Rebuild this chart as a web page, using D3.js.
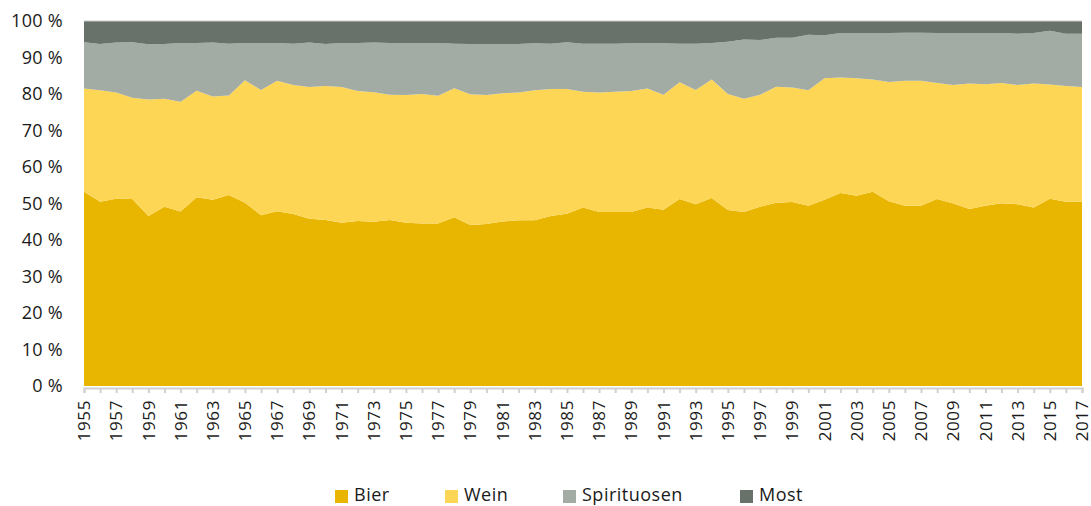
<!DOCTYPE html>
<html>
<head>
<meta charset="utf-8">
<script src="https://cdn.jsdelivr.net/npm/d3@7"></script>
<style>
  body { margin: 0; background: #fff; }
  svg text { font-family: "Open Sans", sans-serif; fill: #1a1a1a; }
  .axis text { font-size: 18px; letter-spacing: 0.3px; }
  .x-axis text { font-size: 17px; letter-spacing: 0.6px; }
  .legend text { font-size: 18px; letter-spacing: 0.5px; }
</style>
</head>
<body>
<svg id="chart" width="1091" height="506"></svg>
<script>
// Anteile am Alkoholkonsum (in %), 1955-2017
const years = d3.range(1955, 2018);
const seriesNames = ["Bier", "Wein", "Spirituosen", "Most"];
const seriesColors = ["#e8b500", "#fed655", "#a3aba5", "#68726a"];

const bier = [53.2, 50.5, 51.3, 51.2, 46.6, 49.1, 47.8, 51.7, 51.0, 52.3,
  50.2, 46.8, 47.9, 47.1, 45.8, 45.5, 44.7, 45.2, 45.0, 45.5,
  44.7, 44.5, 44.5, 46.2, 44.1, 44.4, 45.1, 45.4, 45.4, 46.6,
  47.2, 48.9, 47.7, 47.7, 47.7, 48.9, 48.3, 51.2, 49.8, 51.5,
  48.2, 47.7, 49.1, 50.2, 50.4, 49.4, 51.0, 52.9, 52.1, 53.2,
  50.6, 49.4, 49.4, 51.2, 50.0, 48.5, 49.4, 50.1, 49.8, 48.9,
  51.3, 50.5, 50.5];
const wein = [28.3, 30.5, 29.1, 27.8, 31.9, 29.6, 30.1, 29.2, 28.3, 27.3,
  33.6, 34.3, 35.7, 35.4, 36.1, 36.7, 37.2, 35.6, 35.5, 34.3,
  35.0, 35.5, 35.0, 35.4, 35.8, 35.3, 35.1, 35.0, 35.6, 34.8,
  34.2, 31.7, 32.7, 32.9, 33.1, 32.6, 31.5, 32.0, 31.3, 32.5,
  31.8, 31.0, 30.7, 31.8, 31.4, 31.6, 33.3, 31.6, 32.2, 30.8,
  32.7, 34.2, 34.2, 31.8, 32.5, 34.4, 33.3, 32.9, 32.7, 34.0,
  31.3, 31.7, 31.4];
const spirituosen = [12.7, 12.7, 13.7, 15.2, 15.1, 15.0, 16.1, 13.1, 14.8, 14.2,
  10.2, 12.9, 10.4, 11.3, 12.2, 11.5, 12.1, 13.2, 13.6, 14.2,
  14.3, 14.0, 14.5, 12.2, 13.8, 14.0, 13.5, 13.3, 12.9, 12.4,
  12.8, 13.2, 13.4, 13.2, 13.1, 12.4, 14.1, 10.6, 12.7, 10.0,
  14.3, 16.2, 15.0, 13.4, 13.6, 15.2, 11.8, 12.2, 12.4, 12.7,
  13.4, 13.2, 13.2, 13.7, 14.2, 13.8, 14.0, 13.7, 14.0, 13.8,
  14.7, 14.3, 14.6];
const most = [5.8, 6.3, 5.9, 5.8, 6.4, 6.3, 6.0, 6.0, 5.9, 6.2,
  6.0, 6.0, 6.0, 6.2, 5.9, 6.3, 6.0, 6.0, 5.9, 6.0,
  6.0, 6.0, 6.0, 6.2, 6.3, 6.3, 6.3, 6.3, 6.1, 6.2,
  5.8, 6.2, 6.2, 6.2, 6.1, 6.1, 6.1, 6.2, 6.2, 6.0,
  5.7, 5.1, 5.2, 4.6, 4.6, 3.8, 3.9, 3.3, 3.3, 3.3,
  3.3, 3.2, 3.2, 3.3, 3.3, 3.3, 3.3, 3.3, 3.5, 3.3,
  2.7, 3.5, 3.5];
const yTicks = [0, 10, 20, 30, 40, 50, 60, 70, 80, 90, 100];

const rows = years.map((y, i) => ({
  year: y, Bier: bier[i], Wein: wein[i], Spirituosen: spirituosen[i], Most: most[i]
}));

const svg = d3.select("#chart");
const margin = { left: 84, right: 9, top: 21, bottom: 120 };
const width = 1091, height = 506;

const x = d3.scaleLinear()
  .domain(d3.extent(years))
  .range([margin.left, width - margin.right]);
const y = d3.scaleLinear()
  .domain([0, 100])
  .range([height - margin.bottom, margin.top]);

// normalise each year to 100 %
const stack = d3.stack()
  .keys(seriesNames)
  .offset(d3.stackOffsetExpand);
const layers = stack(rows);

const area = d3.area()
  .x(d => x(d.data.year))
  .y0(d => y(d[0] * 100))
  .y1(d => y(d[1] * 100));

svg.append("g")
  .selectAll("path")
  .data(layers)
  .join("path")
  .attr("fill", (d, i) => seriesColors[i])
  .attr("d", area);

// thin line at 100 %
svg.append("line")
  .attr("x1", x.range()[0]).attr("x2", x.range()[1])
  .attr("y1", y(100)).attr("y2", y(100))
  .attr("stroke", "#c8c8c8").attr("stroke-width", 1);

// y axis
const yAxis = svg.append("g")
  .attr("class", "axis")
  .attr("transform", `translate(${margin.left},0)`)
  .call(d3.axisLeft(y).tickValues(yTicks).tickSize(0).tickPadding(21)
    .tickFormat(d => d + " %"));
yAxis.select(".domain").remove();

// x axis
const xAxis = svg.append("g")
  .attr("class", "axis x-axis")
  .attr("transform", `translate(0,${y(0) + 2})`)
  .call(d3.axisBottom(x).tickValues(years).tickSize(5)
    .tickFormat(d => (d - 1955) % 2 === 0 ? d : ""));
xAxis.select(".domain").attr("stroke", "#d0d0d0").attr("stroke-width", 2);
xAxis.selectAll(".tick line").attr("stroke", "#d0d0d0").attr("stroke-width", 2);
xAxis.selectAll(".tick text")
  .attr("transform", "rotate(-90)")
  .attr("text-anchor", "end")
  .attr("x", -12)
  .attr("y", 0)
  .attr("dy", "0.33em");

// legend
const legendX = [335, 445, 563, 740];
const legend = svg.append("g")
  .attr("class", "legend")
  .selectAll("g")
  .data(seriesNames)
  .join("g")
  .attr("transform", (d, i) => `translate(${legendX[i]},490)`);
legend.append("rect")
  .attr("width", 13).attr("height", 13)
  .attr("fill", (d, i) => seriesColors[i]);
legend.append("text")
  .attr("x", 19).attr("y", 11)
  .text(d => d);
</script>
</body>
</html>
